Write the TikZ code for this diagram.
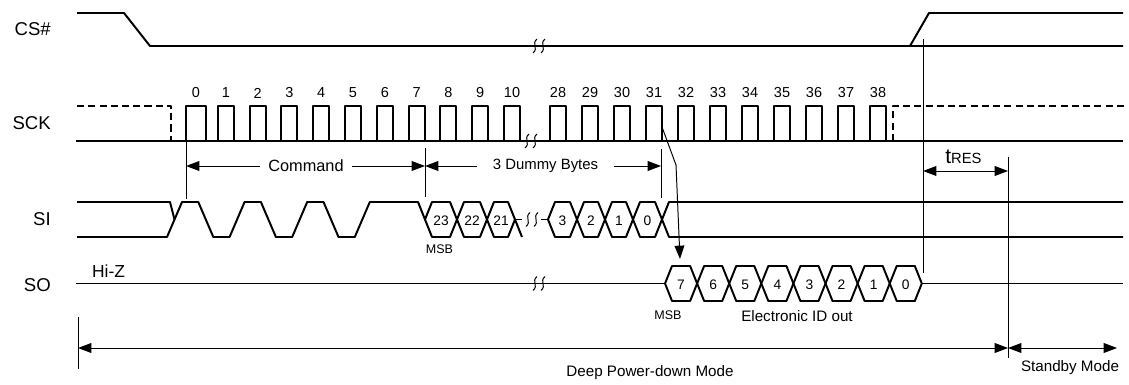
\documentclass[tikz,border=0pt]{standalone}
\usepackage{fontspec}
\setmainfont{Liberation Sans}
\usetikzlibrary{arrows.meta}
\tikzset{
 sig/.style
  = {line width=1.4pt, line join=round},
 guide/.style
  = {line width=0.7pt},
 siglab/.style
  = {anchor=east, inner sep=0pt, font=\fontsize{13.2}{15}\selectfont},
 num/.style
  = {inner sep=0pt, font=\fontsize{10.3}{12}\selectfont},
 hexnum/.style
  = {inner sep=0pt, font=\fontsize{9.8}{11}\selectfont},
 txt/.style
  = {inner sep=0pt, font=\fontsize{10.8}{12}\selectfont},
 small/.style
  = {inner sep=0pt, font=\fontsize{8.9}{10}\selectfont},
}
% break mark across a signal line
\newcommand{\wavebreak}[2]{%
  \foreach \dx in {-4,4} {
    \draw[guide] ({#1+\dx+2},{#2-7}) .. controls ({#1+\dx-4},{#2-2}) and ({#1+\dx+4},{#2+2}) .. ({#1+\dx-2},{#2+7});
  }}
\begin{document}
\begin{tikzpicture}[x=0.025cm, y=-0.025cm, >={Triangle[length=9.5pt,width=7pt]}]
\useasboundingbox (0,0) rectangle (1129,385);
% signal names
\node[siglab] (cs) at (51,29.5) {CS\#};
\node[siglab] (sck) at (51,123.5) {SCK};
\node[siglab] (si) at (51,219.5) {SI};
\node[siglab] (so) at (51,285) {SO};
% CS#
\draw[sig] (77,13) -- (124,13) -- (150,46) -- (1123,46);
\draw[sig] (910,46) -- (929,13) -- (1123,13);
\wavebreak{539}{46}
% SCK
\draw[sig, dash pattern=on 5pt off 3pt] (77,106) -- (171,106) -- (171,141);
\draw[sig, dash pattern=on 5pt off 3pt] (893,141) -- (893,106) -- (1125,106);
\draw[sig] (76,141) -- (1123,141);
\foreach \k in {0,...,10} {
  \pgfmathsetmacro\xr{186+31.8*\k}
  \pgfmathsetmacro\w{ifthenelse(\k==0,20,16)}
  \draw[sig] (\xr,141) -- (\xr,106) -- (\xr+\w,106) -- (\xr+\w,141);
  \node[num] (n\k) at (\xr+\w/2,93) {\k};
}
\foreach \k in {28,...,38} {
  \pgfmathsetmacro\xr{550+32*(\k-28)}
  \draw[sig] (\xr,141) -- (\xr,106) -- (\xr+16,106) -- (\xr+16,141);
  \node[num] (n\k) at (\xr+8,93) {\k};
}
\wavebreak{531}{141}
% SI
\draw[sig] (77,202) -- (170,202) -- (174.5,219.5);
\draw[sig] (77,237) -- (167,237) -- (182,202) -- (198.3,202) -- (213.3,237) -- (229.6,237)
  -- (244.6,202) -- (260.9,202) -- (275.9,237) -- (292.2,237) -- (307.2,202) -- (323.5,202)
  -- (338.5,237) -- (354.8,237) -- (369.8,202) -- (418,202) -- (425,219.5);
\foreach \xa/\xb/\bit in {425/457/23, 457/487/22, 487/515/21, 548/577/3, 577/605/2, 605/633/1, 633/662/0} {
  \draw[sig] (\xa,219.5) -- (\xa+7,202) -- (\xb-7,202) -- (\xb,219.5) -- (\xb-7,237) -- (\xa+7,237) -- cycle;
  \node[hexnum] (si\bit) at ({(\xa+\xb)/2},221) {\bit};
}
\draw[sig] (515,219.5) -- (522,237);
\draw[sig] (515,219.5) -- (522,219.5);
\draw[sig] (541,219.5) -- (548,219.5);
\wavebreak{532}{219.5}
\draw[sig] (662,219.5) -- (669,202) -- (1123,202);
\draw[sig] (662,219.5) -- (669,237) -- (1123,237);
\node[small] (msbi) at (439.5,249) {MSB};
% SO
\draw[sig] (76,283.5) -- (665,283.5);
\wavebreak{539}{283.5}
\foreach \bit [count=\i from 0] in {7,6,5,4,3,2,1,0} {
  \pgfmathsetmacro\xa{665+32.1*\i}
  \pgfmathsetmacro\xb{\xa+32.1}
  \draw[sig] (\xa,283.5) -- (\xa+7,266) -- (\xb-7,266) -- (\xb,283.5) -- (\xb-7,301) -- (\xa+7,301) -- cycle;
  \node[hexnum] (so\bit) at ({(\xa+\xb)/2},285) {\bit};
}
\draw[sig] (921.8,283.5) -- (1123,283.5);
\node[inner sep=0pt, font=\fontsize{12.4}{14}\selectfont] (hiz) at (108.5,271.5) {Hi-Z};
\node[small] (msbo) at (668,315) {MSB};
\node[txt] (eid) at (797,316) {Electronic ID out};
% timing marks
\draw[guide] (186,141) -- (186,199);
\draw[guide] (425,148) -- (425,197);
\draw[guide] (661,149) -- (661,198);
\draw[guide] (923,39) -- (923,273);
\draw[guide] (1008,157) -- (1008,358);
\draw[guide] (78,317) -- (78,369);
\coordinate (t0) at (186,166);
\coordinate (t1) at (425,166);
\coordinate (t2) at (661,166);
\node[txt, inner xsep=6pt, font=\fontsize{11.6}{13}\selectfont] (cmd) at (306,166) {Command};
\node[txt, inner xsep=11pt, font=\fontsize{10.6}{12}\selectfont] (dummy) at (545.5,166) {3 Dummy Bytes};
\draw[guide,->] (cmd) -- (t0);
\draw[guide,->] (cmd) -- (t1);
\draw[guide,->] (dummy) -- (t1);
\draw[guide,->] (dummy) -- (t2);
% SCK 31 to SO
\coordinate (f31) at (662,127);
\coordinate (bend) at (676,165);
\coordinate (a7) at (680,259);
\draw[guide,->] (f31) -- (bend) -- (a7);
% tRES
\coordinate (r0) at (923,171);
\coordinate (r1) at (1008,171);
\draw[guide,<->] (r0) -- (r1);
\node[inner sep=0pt, anchor=base west] (tres) at (945,164) {\fontsize{15}{17}\selectfont t\fontsize{10.5}{12}\selectfont RES};
% modes
\coordinate (d0) at (78,348);
\coordinate (d1) at (1008,348);
\coordinate (d2) at (1117,348);
\draw[guide,<->] (d0) -- (d1);
\draw[guide,<->] (d1) -- (d2);
\node[txt] (deep) at (650,373) {Deep Power-down Mode};
\node[txt] (stby) at (1070,368) {Standby Mode};
\end{tikzpicture}
\end{document}
